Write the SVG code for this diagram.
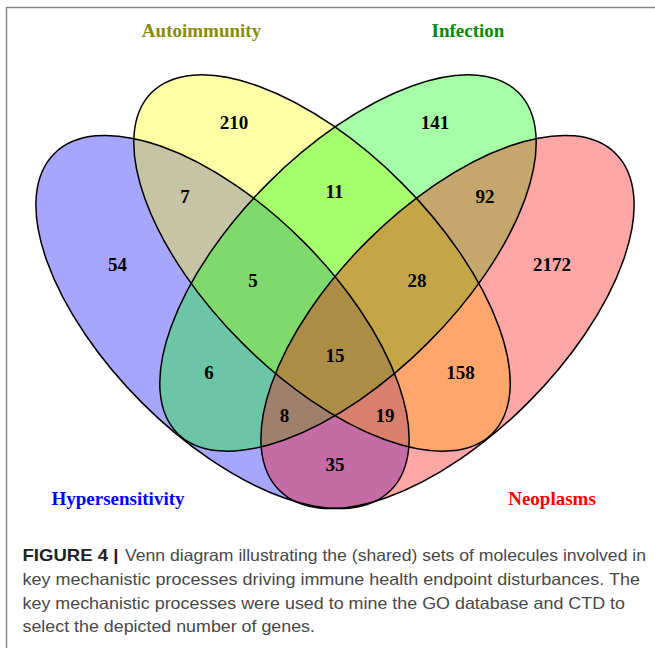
<svg xmlns="http://www.w3.org/2000/svg" xmlns:xlink="http://www.w3.org/1999/xlink" width="655" height="648" viewBox="0 0 655 648">
<style>
.fill{stroke:none;fill-opacity:0.35}
.edge{fill:none;stroke:#000;stroke-width:1.5}
.num{font-family:"Liberation Serif","Times New Roman",serif;font-weight:bold;font-size:19px;fill:#000;text-anchor:middle}
.cat{font-family:"Liberation Serif","Times New Roman",serif;font-weight:bold;font-size:19px;text-anchor:middle}
.cap{font-family:"Liberation Sans",Arial,sans-serif;font-size:16.5px;fill:#484848}
.capb{font-family:"Liberation Sans",Arial,sans-serif;font-size:16.5px;font-weight:bold;fill:#222}
</style>
<defs>
<ellipse id="eH" cx="222.5" cy="322" rx="238" ry="114" transform="rotate(45 222.5 322)"/>
<ellipse id="eA" cx="322" cy="263" rx="241" ry="113" transform="rotate(45 322 263)"/>
<ellipse id="eI" cx="348" cy="263" rx="241" ry="113" transform="rotate(-45 348 263)"/>
<ellipse id="eN" cx="447.5" cy="322" rx="238" ry="114" transform="rotate(-45 447.5 322)"/>
</defs>
<rect width="655" height="648" fill="#fff"/>
<path d="M6.5,648 V7.5 H655" fill="none" stroke="#8a8a8a" stroke-width="1.5"/>
<g id="hypersensitivity">
<use xlink:href="#eH" class="fill" fill="#0000ff"/>
<text class="cat" x="118" y="505" fill="#0000ff">Hypersensitivity</text>
</g>
<g id="autoimmunity">
<use xlink:href="#eA" class="fill" fill="#ffff00"/>
<text class="cat" x="201.5" y="36.5" fill="#8b8b00">Autoimmunity</text>
</g>
<g id="infection">
<use xlink:href="#eI" class="fill" fill="#00ff00"/>
<text class="cat" x="468" y="36.5" fill="#008b00">Infection</text>
</g>
<g id="neoplasms">
<use xlink:href="#eN" class="fill" fill="#ff0000"/>
<text class="cat" x="552" y="505" fill="#ff0000">Neoplasms</text>
</g>
<g id="outlines">
<use xlink:href="#eH" class="edge"/>
<use xlink:href="#eA" class="edge"/>
<use xlink:href="#eI" class="edge"/>
<use xlink:href="#eN" class="edge"/>
</g>
<g id="counts">
<text class="num" x="234" y="128.5">210</text>
<text class="num" x="435" y="128.5">141</text>
<text class="num" x="185" y="203">7</text>
<text class="num" x="334.5" y="198">11</text>
<text class="num" x="485" y="203">92</text>
<text class="num" x="117.5" y="270.5">54</text>
<text class="num" x="552" y="270.5">2172</text>
<text class="num" x="253" y="286.5">5</text>
<text class="num" x="417" y="286.5">28</text>
<text class="num" x="335" y="362">15</text>
<text class="num" x="209" y="378.5">6</text>
<text class="num" x="460.5" y="378.5">158</text>
<text class="num" x="284.5" y="421.5">8</text>
<text class="num" x="385" y="421.5">19</text>
<text class="num" x="335" y="471">35</text>
</g>
<g id="caption">
<text class="capb" x="22.5" y="561" textLength="96" lengthAdjust="spacingAndGlyphs">FIGURE 4 |</text>
<text class="cap" x="125" y="561" textLength="521" lengthAdjust="spacingAndGlyphs">Venn diagram illustrating the (shared) sets of molecules involved in</text>
<text class="cap" x="22.5" y="584.5" textLength="617.5" lengthAdjust="spacingAndGlyphs">key mechanistic processes driving immune health endpoint disturbances. The</text>
<text class="cap" x="22.5" y="608.5" textLength="602.5" lengthAdjust="spacingAndGlyphs">key mechanistic processes were used to mine the GO database and CTD to</text>
<text class="cap" x="22.5" y="632" textLength="292.5" lengthAdjust="spacingAndGlyphs">select the depicted number of genes.</text>
</g>
</svg>
